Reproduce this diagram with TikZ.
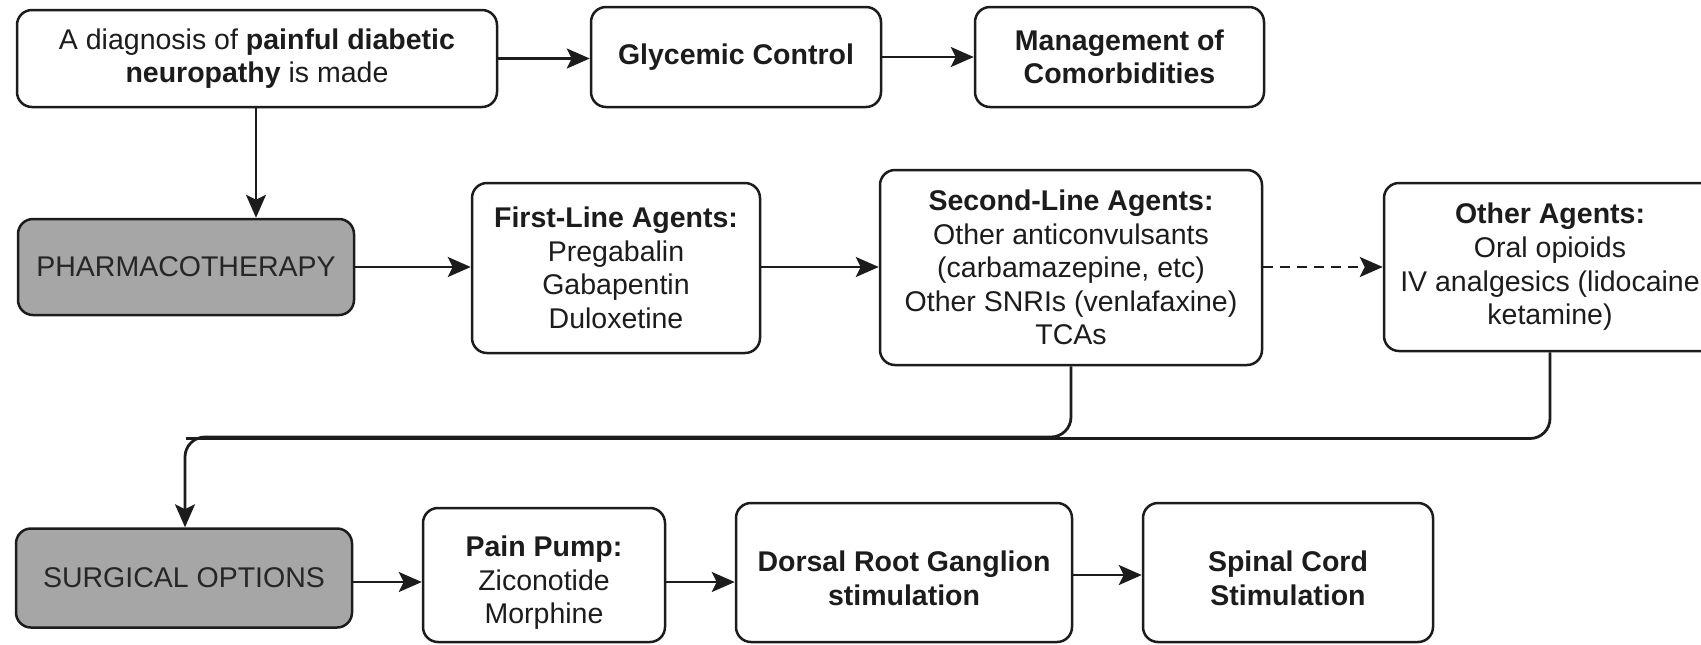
\documentclass[tikz,border=0pt]{standalone}
\usepackage{fontspec}
\setmainfont{Liberation Sans}
\usetikzlibrary{arrows.meta}
\definecolor{ink}{HTML}{1C1C1C}
\definecolor{boxgray}{HTML}{A6A6A6}
\tikzset{
  box/.style={draw=ink, line width=1.25pt, rounded corners=7.5pt, fill=white,
    align=center, inner sep=0pt, text=ink,
    font=\fontsize{14.25pt}{16.8pt}\selectfont},
  graybox/.style={box, fill=boxgray, text=black!85},
  txt/.style={align=center, inner sep=0pt, text=ink,
    font=\fontsize{14.25pt}{16.8pt}\selectfont},
  conn/.style={draw=ink, line width=1.4pt, -{Stealth[length=11.5pt,width=10pt,inset=2.5pt]}},
  link/.style={draw=ink, line width=1.4pt},
}
\begin{document}
\begin{tikzpicture}[x=0.5pt,y=-0.5pt]
\useasboundingbox (0,0) rectangle (1701,644);
\clip (0,0) rectangle (1701,644);
% row 1
\node[box, minimum width=240pt, minimum height=48.5pt] (diag) at (257,58.5)
  {A diagnosis of \textbf{painful diabetic}\\\textbf{neuropathy} is made};
\node[box, minimum width=145pt, minimum height=50pt] (gly) at (736,57)
  {\textbf{Glycemic Control}};
\node[box, minimum width=144.5pt, minimum height=50pt] (mgmt) at (1119.5,57)
  {\textbf{Management of}\\\textbf{Comorbidities}};
% row 2
\node[graybox, minimum width=168pt, minimum height=48pt] (pharma) at (186,267)
  {PHARMACOTHERAPY};
\node[box, minimum width=144pt, minimum height=85pt] (first) at (616,268)
  {\textbf{First-Line Agents:}\\Pregabalin\\Gabapentin\\Duloxetine};
\node[box, minimum width=191pt, minimum height=97.5pt] (second) at (1071,267.5)
  {\textbf{Second-Line Agents:}\\Other anticonvulsants\\(carbamazepine, etc)\\Other SNRIs (venlafaxine)\\TCAs};
\node[box, minimum width=166pt, minimum height=84pt] (other) at (1550,267)
  {\textbf{Other Agents:}\\Oral opioids\\IV analgesics (lidocaine\\ketamine)};
% row 3
\node[graybox, minimum width=168pt, minimum height=49.5pt] (surg) at (184,578)
  {SURGICAL OPTIONS};
\node[box, minimum width=121pt, minimum height=67pt] (pump) at (544,575) {};
\node[txt] (pumpt) at (544,583) {\textbf{Pain Pump:}\\Ziconotide\\Morphine};
\node[box, minimum width=168pt, minimum height=69.5pt] (dorsal) at (904,572.5) {};
\node[txt] (dorsalt) at (904,578) {\textbf{Dorsal Root Ganglion}\\\textbf{stimulation}};
\node[box, minimum width=145pt, minimum height=69.5pt] (spinal) at (1288,572.5) {};
\node[txt] (spinalt) at (1288,578) {\textbf{Spinal Cord}\\\textbf{Stimulation}};
% connectors
\draw[conn] (diag.east) -- (gly.west |- diag.east);
\draw[conn] (gly.east) -- (mgmt.west);
\draw[conn] (diag.south -| 256,0) -- (256,0 |- pharma.north);
\draw[conn] (pharma.east) -- (first.west |- pharma.east);
\draw[conn] (first.east |- 0,267) -- (second.west |- 0,267);
\draw[conn, dash pattern=on 5pt off 3.5pt] (second.east |- 0,267) -- (other.west |- 0,267);
\coordinate (j) at (185,437);
\coordinate (j2) at (186,438.5);
\draw[link, rounded corners=10pt] (other.south) |- (j2);
\draw[conn, rounded corners=10pt] (second.south) |- (j) -- (j |- surg.north);
\draw[conn] (surg.east |- 0,582) -- (pump.west |- 0,582);
\draw[conn] (pump.east |- 0,582) -- (dorsal.west |- 0,582);
\draw[conn] (dorsal.east |- 0,575) -- (spinal.west |- 0,575);
\end{tikzpicture}
\end{document}
